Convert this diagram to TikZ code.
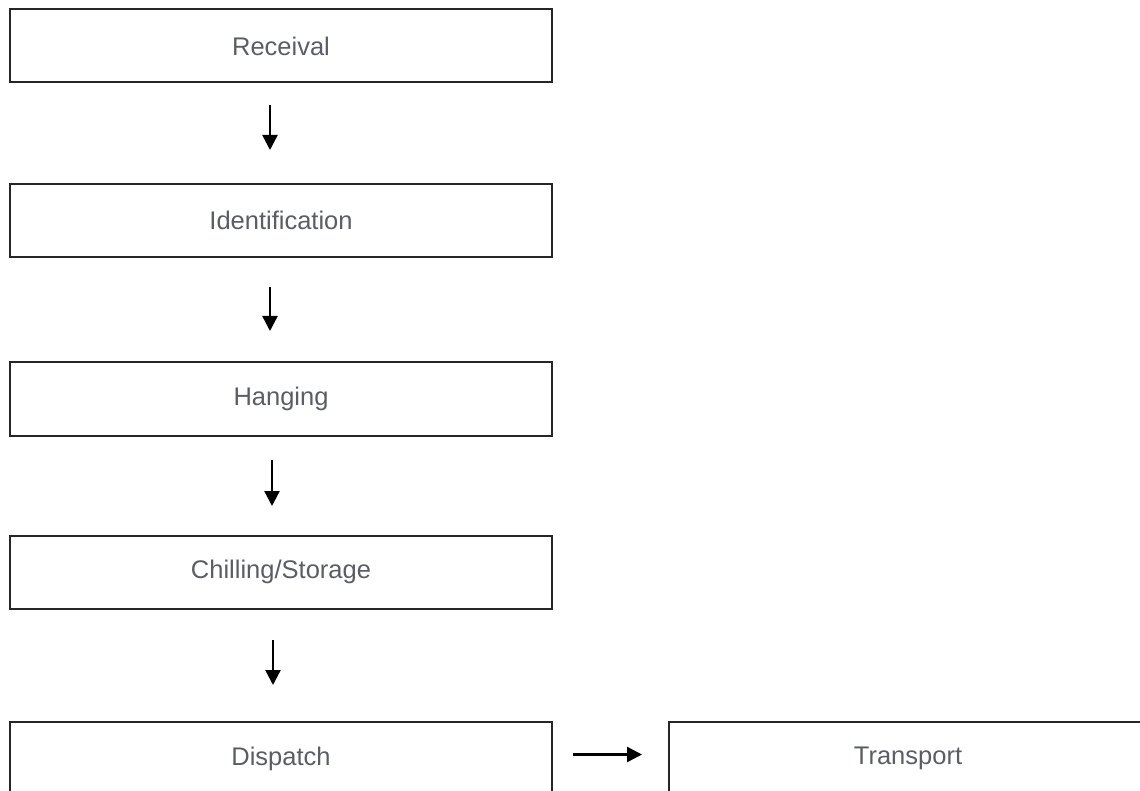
\documentclass[tikz,border=0pt]{standalone}
\usepackage{fontspec}
\setmainfont{Liberation Sans}
\usetikzlibrary{arrows.meta}
\definecolor{labelgray}{RGB}{90,94,100}

\begin{document}
\begin{tikzpicture}[x=1pt,y=-1pt,
  stepbox/.style={draw=black!85,line width=2pt,minimum width=542pt,minimum height=73pt,inner sep=0pt,text=labelgray,font=\fontsize{25.5}{30}\selectfont},
  flow/.style={line width=2.4pt,-{Triangle[length=15pt,width=15pt]}}]
\clip (0,0) rectangle (1140,791);
\node[stepbox] (receival) at (281,46) {Receival};
\node[stepbox] (identification) at (281,220.5) {Identification};
\node[stepbox] (hanging) at (281,399) {Hanging};
\node[stepbox] (chilling) at (281,572) {Chilling/Storage};
\node[stepbox] (dispatch) at (281,758.5) {Dispatch};
\node[stepbox,minimum width=478pt] (transport) at (908,758.5) {Transport};
\draw[flow,shorten <=21.5pt,shorten >=33pt] ([xshift=-11pt]receival.south) -- ([xshift=-11pt]identification.north);
\draw[flow,shorten <=29pt,shorten >=30.5pt] ([xshift=-11pt]identification.south) -- ([xshift=-11pt]hanging.north);
\draw[flow,shorten <=23.5pt,shorten >=28.5pt] ([xshift=-9pt]hanging.south) -- ([xshift=-9pt]chilling.north);
\draw[flow,shorten <=30.5pt,shorten >=36pt] ([xshift=-8pt]chilling.south) -- ([xshift=-8pt]dispatch.north);
\draw[flow,shorten <=20pt,shorten >=26pt] ([yshift=4pt]dispatch.east) -- ([yshift=4pt]transport.west);
\end{tikzpicture}
\end{document}
